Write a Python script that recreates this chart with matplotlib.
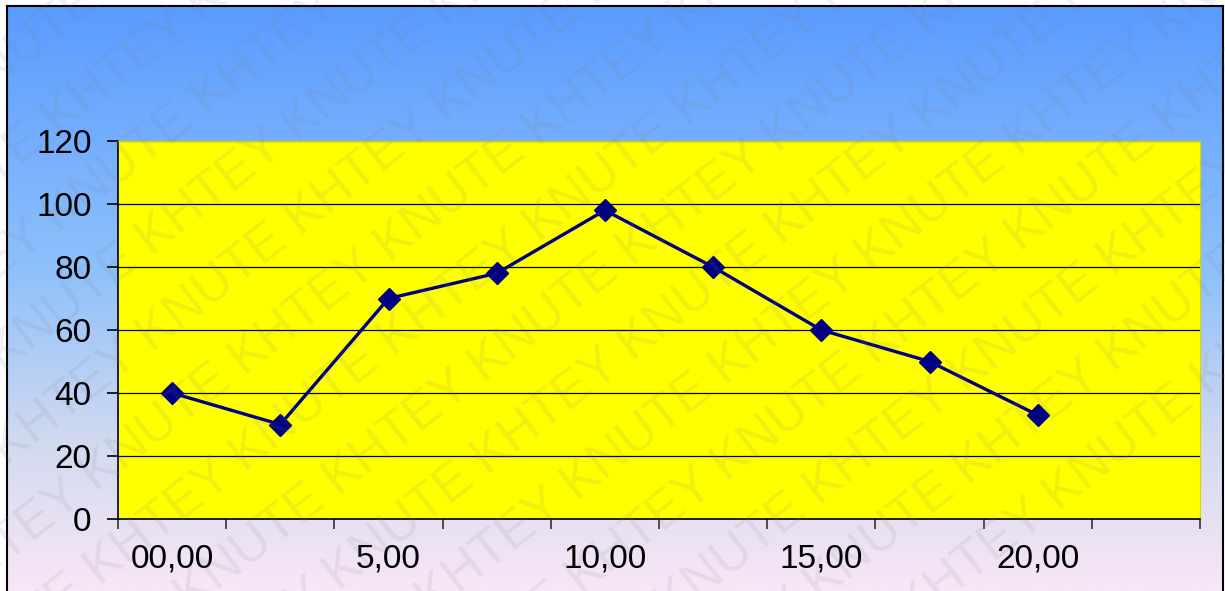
import numpy as np
import matplotlib.pyplot as plt
from matplotlib.colors import LinearSegmentedColormap

plt.rcParams['font.family'] = ['Liberation Sans', 'DejaVu Sans']

# datos del grafico
categorias = ["00,00", "", "5,00", "", "10,00", "", "15,00", "", "20,00", ""]
valores = [40, 30, 70, 78, 98, 80, 60, 50, 33]
y_ticks = [0, 20, 40, 60, 80, 100, 120]

W, H = 1225, 591
fig = plt.figure(figsize=(W / 100, H / 100), dpi=100)
fig.patch.set_facecolor('white')

# fondo con degradado azul -> rosa claro
bg = fig.add_axes([7 / W, 0, 1216 / W, 585 / H])
cmap = LinearSegmentedColormap.from_list(
    'fondo', [(0, '#5a9bff'), (0.45, '#8ec0fb'), (0.75, '#d2daf0'), (1, '#f9e6f6')])
bg.imshow(np.linspace(0, 1, 256).reshape(-1, 1), aspect='auto', cmap=cmap,
          extent=[0, 1, 0, 1])
bg.set_xticks([])
bg.set_yticks([])
for s in bg.spines.values():
    s.set_linewidth(1.5)
    s.set_color('black')
bg.spines['bottom'].set_visible(False)

ax = fig.add_axes([118 / W, (H - 519) / H, (1200 - 118) / W, (519 - 141) / H])
ax.set_facecolor('#ffff00')
x = np.arange(len(valores))
ax.plot(x, valores, color='#000080', linewidth=2.4, marker='D',
        markersize=11, markerfacecolor='#000080', markeredgecolor='#000080', zorder=3)

ax.set_ylim(0, 120)
ax.set_yticks(y_ticks)
ax.yaxis.grid(True, color='black', linewidth=0.9)
ax.set_axisbelow(True)

ax.set_xlim(-0.5, len(categorias) - 0.5)
ax.set_xticks(np.arange(len(categorias) + 1) - 0.5)
ax.set_xticklabels([])
ax.set_xticks(np.arange(len(categorias)), minor=True)
ax.set_xticklabels(categorias, minor=True)
ax.tick_params(axis='x', which='minor', length=0, pad=18, labelsize=24)
ax.tick_params(axis='x', which='major', length=7, width=1.2, direction='out', color='#333333')
ax.tick_params(axis='y', length=8, width=1.2, direction='out', labelsize=24, pad=11)

for s in ['top', 'right']:
    ax.spines[s].set_color('#d8d800')
ax.spines['left'].set_color('black')
ax.spines['bottom'].set_color('black')
ax.spines['left'].set_linewidth(1.2)
ax.spines['bottom'].set_linewidth(1.2)

# marca de agua
texto = "KNUTE KHTEY " * 6
ang = 38
d = np.array([np.cos(np.radians(ang)), np.sin(np.radians(ang))])
n = np.array([-d[1], d[0]])
for k in range(-10, 12):
    p0 = np.array([-300.0, 0.0]) + n * 76 * k + d * ((k % 2) * 130)
    fig.text(p0[0] / W, p0[1] / H, texto, rotation=ang, rotation_mode='anchor',
             fontsize=37, color='#808080', alpha=0.12, ha='left', va='center', zorder=10)

fig.savefig('out.png', dpi=100)
